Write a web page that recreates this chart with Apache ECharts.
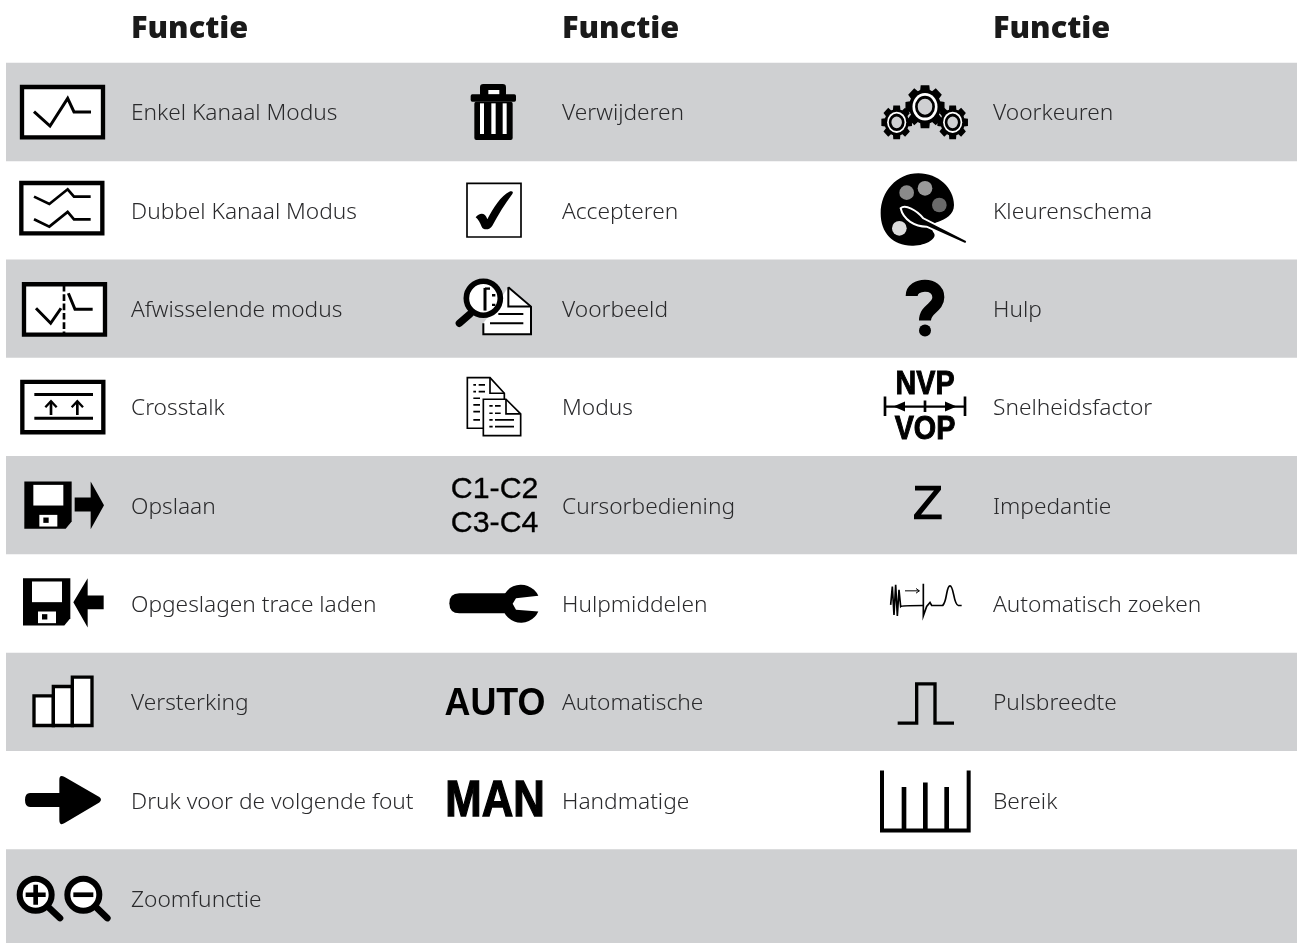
<!DOCTYPE html>
<html><head><meta charset="utf-8">
<style>html,body{margin:0;padding:0;background:#fff;overflow:hidden}#c{width:1297px;height:943px}</style>
<script src="https://cdn.jsdelivr.net/npm/echarts@6/dist/echarts.min.js"></script>
</head><body><div id="c"></div>
<script>
const headers = ['Functie', 'Functie', 'Functie'];
const column1Labels = ['Enkel Kanaal Modus','Dubbel Kanaal Modus','Afwisselende modus','Crosstalk','Opslaan','Opgeslagen trace laden','Versterking','Druk voor de volgende fout','Zoomfunctie'];
const column2Labels = ['Verwijderen','Accepteren','Voorbeeld','Modus','Cursorbediening','Hulpmiddelen','Automatische','Handmatige'];
const column3Labels = ['Voorkeuren','Kleurenschema','Hulp','Snelheidsfactor','Impedantie','Automatisch zoeken','Pulsbreedte','Bereik'];
const column1Icons = ['single','dual','alternate','crosstalk','save','load','gain','next','zoom'];
const column2Icons = ['trash','check','preview','mode','cursor','wrench','auto','man'];
const column3Icons = ['gears','palette','help','nvp','z','search','pulse','range'];
const shadedRows = [0, 2, 4, 6, 8];

const BAND = '#cfd0d2', INK = '#000', TEXT = '#2a2a2c', WHITE = '#fff';
const LABEL_FONT = '300 22.7px "Noto Sans"', HEAD_FONT = '900 30.7px "Noto Sans"';
const R = (x,y,w,h,fill,stroke,lw,r) => ({type:'rect',shape:{x,y,width:w,height:h,r:r||0},style:{fill:fill||'none',stroke:stroke||null,lineWidth:lw||0}});
const P = (d,lw,stroke,fill,extra) => ({type:'path',shape:{pathData:d},style:Object.assign({fill:fill||'none',stroke:stroke===undefined?INK:stroke,lineWidth:lw||0,lineJoin:'miter',lineCap:'butt'},extra||{})});
const F = (d,fill) => P(d,0,null,fill||INK);
const C = (cx,cy,r,fill,stroke,lw) => ({type:'circle',shape:{cx,cy,r},style:{fill:fill||'none',stroke:stroke||null,lineWidth:lw||0}});
const T = (text,x,y,font,sx,sw) => ({type:'text',x,y,scaleX:sx||1,style:{text,x:0,y:0,font,fill:INK,stroke:sw?INK:null,lineWidth:sw||0,align:'center',verticalAlign:'middle'}});
function gear(Ro,Ri,n){let d='';for(let i=0;i<n;i++){const a=i*2*Math.PI/n,w=Math.PI/n*0.55,b=Math.PI/n*0.8;
  const pt=(rr,t)=>(rr*Math.cos(t)).toFixed(1)+' '+(rr*Math.sin(t)).toFixed(1);
  d+=(i?'L':'M')+pt(Ri,a-b)+'L'+pt(Ro,a-w)+'L'+pt(Ro,a+w)+'L'+pt(Ri,a+b);}return d+'Z';}
function gearIcon(cx,cy,Ro,body,k){return {type:'group',x:cx,y:cy,scaleY:1.1,children:[F(gear(Ro,body,8)),C(0,0,body,INK),C(0,0,body*0.8,WHITE),C(0,0,body*0.55,k,INK,8)]};}
function floppy(dx,dy){const s=(x,y)=>(x+dx)+' '+(y+dy);return [F('M'+s(73,95)+'L'+s(215,95)+'L'+s(215,215)+'L'+s(197,237)+'L'+s(73,237)+'Z'),R(100+dx,105+dy,90,62,WHITE),R(118+dx,195+dy,54,35,WHITE),R(130+dx,203+dy,16,16,INK)];}
const frame=(x,y)=>R(x,y,243,151,WHITE,INK,13);
// every icon: [x, y of the cell centre in its own drawing units, shapes]; units are a third of a pixel
const icons = {
 single:[186,336,[frame(66,261),P('M102 335L150 378L203 295L222 336H273',9)]],
 dual:[186,631,[frame(64,549),P('M102 590L148 612L203 568L222 590H272',8),P('M102 658L148 680L203 636L222 658H272',8)]],
 alternate:[186,926,[frame(72,853),P('M108 925L152 970L183 925',9),P('M192 855V1000',8,INK,null,{lineDash:[20,8]}),P('M205 880L225 928H278',9)]],
 crosstalk:[186,1221,[frame(67,1146),P('M103 1184H279M103 1255H279',9),P('M153 1245V1204M232 1245V1204',8),P('M136 1222L153 1204L170 1222M215 1222L232 1204L249 1222',7)]],
 save:[186,166,[...floppy(0,0),F('M224 143H272V95L312 166L272 238V185H224Z')]],
 load:[186,461,[...floppy(-4,290),F('M311 437H263V385L220 457L263 533V478H311Z')]],
 gain:[186,756,[R(102,738,58,89,WHITE,INK,10),R(160,710,57,117,WHITE,INK,10),R(217,682,59,145,WHITE,INK,10)]],
 next:[186,1051,[F('M90 1030H178V990Q178 972 194 982L298 1042Q308 1050 298 1058L194 1120Q178 1130 178 1110V1072H90Q75 1072 75 1051Q75 1030 90 1030Z')]],
 zoom:[186,1346,[C(107,1335,48,WHITE,INK,18),P('M145 1372L180 1405',20,INK,null,{lineCap:'round'}),P('M107 1305V1365M77 1335H137',14),C(250,1335,48,WHITE,INK,18),P('M288 1372L322 1405',20,INK,null,{lineCap:'round'}),P('M220 1335H280',14)]],
 trash:[189,156,[R(150,72,78,40,INK,null,0,10),R(175,90,33,14,WHITE),R(122,103,136,22,INK,null,0,5),R(133,125,115,115,INK,null,0,6),R(150,130,12,92,WHITE),R(184,130,13,92,WHITE),R(218,130,12,92,WHITE)]],
 check:[189,451,[R(111,370,162,161,WHITE,INK,5),P('M137 472C148 458 165 455 172 478C188 445 215 405 238 395C245 392 252 394 247 402C225 430 205 465 187 497C180 510 160 512 155 500C150 488 145 478 137 472Z',0,null,INK)]],
 preview:[189,746,[P('M235 682L303 740V823H160V790',6,INK,WHITE),P('M235 682V740H303',6),P('M205 762H280M180 790H280',6),C(160,715,51,WHITE,INK,17),P('M120 762L88 790',22,INK,null,{lineCap:'round'}),P('M165 684V752',9),P('M165 686H180',7),P('M186 706H196M186 735H196',7)]],
 mode:[189,1041,[P('M112 953H180L223 1000V1105H112Z',5,INK,WHITE),P('M180 953V1000H223',5),P('M130 975H138M146 975H165M130 995H138M146 995H165M130 1015H150M130 1035H150M130 1055H150M130 1080H150',5),P('M160 1018H228L272 1062V1127H160Z',5,INK,WHITE),P('M228 1018V1062H272',5),P('M178 1038H188M195 1038H212M178 1060H188M195 1060H212M178 1080H188M195 1080H252M178 1100H188M195 1100H252',5)]],
 cursor:[189,136,[T('C1-C2',194,90,'91px "Liberation Sans"',1,1),T('C3-C4',194,192,'91px "Liberation Sans"',1,1)]],
 wrench:[189,431,[F('M88 400H240V460H88Q58 460 58 430Q58 400 88 400Z'),F('M325 408A57 57 0 1 0 325 455L258 450L248 432L258 415Z')]],
 auto:[189,726,[T('AUTO',195,733,'bold 119px "Liberation Sans"',0.905)]],
 man:[189,1021,[T('MAN',195,1028,'bold 148px "Liberation Sans"',0.885,4)]],
 gears:[192,156,[gearIcon(195,140,60,47,BAND),gearIcon(110,187,47,36,BAND),gearIcon(278,187,47,36,BAND)]],
 palette:[192,451,[F('M175 340C235 340 282 385 282 435C282 465 255 478 235 485C215 490 212 505 222 520C232 535 200 557 160 557C100 559 62 520 62 460C62 395 110 340 175 340Z'),C(140,398,22,'#8a8a8a'),C(195,385,22,'#9a9a9a'),C(238,435,22,'#6a6a6a'),C(118,505,22,'#dcdcdc'),P('M122 445C135 432 170 450 190 475L322 542L318 553L200 500C165 500 130 480 122 445Z',6,WHITE,INK)]],
 help:[192,746,[P('M155 708C155 668 235 665 235 712C235 745 195 745 195 782',36),C(195,812,18,INK)]],
 nvp:[192,1041,[T('NVP',195,976,'bold 98px "Liberation Sans"',0.88,3),T('VOP',195,1111,'bold 98px "Liberation Sans"',0.88,3),P('M75 1040H315',7),P('M75 1010V1068M315 1010V1068M195 1022V1056',8),F('M100 1040L135 1025V1055ZM290 1040L255 1025V1055Z')]],
 z:[192,136,[F('M165 78H243V90L183 164H245V178H162V165L222 92H165Z')]],
 search:[192,431,[P('M92 435L97 380L102 465L107 375L112 468L117 390L122 440Q125 437 190 437',5),P('M190 372V468L200 440L210 428L215 437H248C262 425 258 378 270 378C282 378 280 435 295 437H305',5),P('M135 393H178M168 386L178 393L168 400',3)]],
 pulse:[192,726,[P('M113 790H170V672H225V790H282',10)]],
 range:[192,1021,[P('M66 932V1112H326V932',12),P('M132 982V1112M196 968V1112M260 982V1112',14)]]
};
function rows(labels, keys, col){return labels.map((l,i)=>[col,i,l,keys[i]]);}
const cellData = [...rows(column1Labels,column1Icons,0),...rows(column2Labels,column2Icons,1),...rows(column3Labels,column3Icons,2)];
const LABEL_OFFSET = 69, RIGHT_EDGE = 1297, LEFT_EDGE = 6, TEXT_DROP = 2;
const HEADER_ROW = -0.845;
const chart = echarts.init(document.getElementById('c'), null, {renderer:'canvas'});
chart.setOption({
 animation:false,
 grid:{left:0,right:0,top:0,bottom:0},
 xAxis:{type:'value',min:-62/431,max:(1297-62)/431,show:false},
 yAxis:{type:'value',min:-112/98.3,max:(943-112)/98.3,inverse:true,show:false},
 series:[
  {type:'custom',name:'bands',coordinateSystem:'cartesian2d',silent:true,z:1,encode:{x:0,y:1},
   data:shadedRows.map(r=>[0,r]),
   renderItem(p,api){const r=api.value(1),a=api.coord([0,r-0.5]),b=api.coord([0,r+0.5]);
     return {type:'rect',shape:{x:LEFT_EDGE,y:a[1],width:RIGHT_EDGE-LEFT_EDGE,height:b[1]-a[1]},style:{fill:BAND}};}},
  {type:'custom',name:'headers',coordinateSystem:'cartesian2d',silent:true,z:2,encode:{x:0,y:1},
   data:headers.map((h,i)=>[i,HEADER_ROW,h]),
   renderItem(p,api){const a=api.coord([api.value(0),api.value(1)]);
     return {type:'text',x:a[0]+LABEL_OFFSET,y:a[1],style:{text:headers[p.dataIndex],font:HEAD_FONT,fill:'#1a1a1a',align:'left',verticalAlign:'middle'}};}},
  {type:'custom',name:'cells',coordinateSystem:'cartesian2d',silent:true,z:3,encode:{x:0,y:1},
   data:cellData,
   renderItem(p,api){const d=cellData[p.dataIndex],a=api.coord([d[0],d[1]]),ic=icons[d[3]];
     return {type:'group',children:[
      {type:'group',x:a[0]-ic[0]/3,y:a[1]-ic[1]/3,scaleX:1/3,scaleY:1/3,children:ic[2]},
      {type:'text',x:a[0]+LABEL_OFFSET,y:a[1]+TEXT_DROP,style:{text:d[2],font:LABEL_FONT,fill:TEXT,align:'left',verticalAlign:'middle'}}
     ]};}}
 ]
});
</script></body></html>
